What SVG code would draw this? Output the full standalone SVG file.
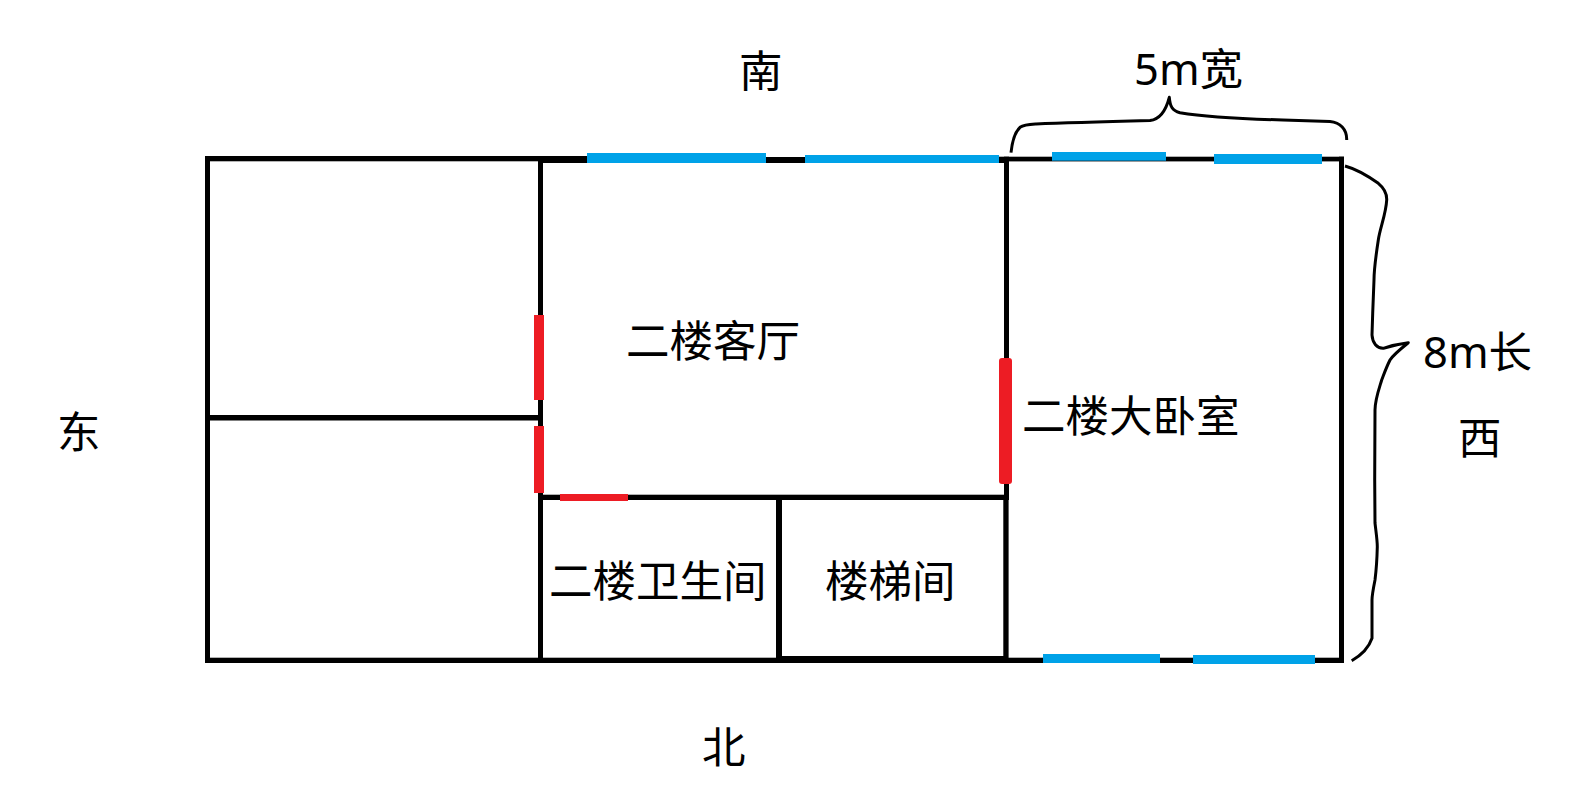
<svg xmlns="http://www.w3.org/2000/svg" width="1580" height="810" viewBox="0 0 1580 810">
<style>
.w{fill:#000}
.b{fill:#00a2e8}
.r{fill:#ed1c24}
.brace{fill:none;stroke:#000;stroke-width:3;stroke-linejoin:round;stroke-linecap:butt}
text{font-family:"Noto Sans","Noto Sans CJK SC",sans-serif;font-size:43.5px;fill:#000}
</style>
<rect width="1580" height="810" fill="#fff"/>
<g id="walls">
<rect class="w" x="205" y="156" width="335" height="5.3"/>
<rect class="w" x="538" y="156" width="52" height="7"/>
<rect class="w" x="587" y="157" width="418" height="6"/>
<rect class="w" x="999" y="156.7" width="345" height="4.7"/>
<rect class="w" x="205" y="156" width="5" height="507"/>
<rect class="w" x="205" y="657.7" width="335" height="5.3"/>
<rect class="w" x="538" y="657.7" width="242" height="5.3"/>
<rect class="w" x="778" y="656" width="228" height="7"/>
<rect class="w" x="1003" y="657.7" width="341" height="5.3"/>
<rect class="w" x="1339" y="156.7" width="5" height="506"/>
<rect class="w" x="205" y="415" width="335" height="5.5"/>
<rect class="w" x="538" y="156" width="5" height="507"/>
<rect class="w" x="538" y="494.7" width="471" height="5.3"/>
<rect class="w" x="776" y="497" width="6" height="162"/>
<rect class="w" x="1004" y="156.7" width="5" height="343.3"/>
<rect class="w" x="1003.3" y="498" width="5.3" height="162"/>
</g>
<g id="windows">
<rect class="b" x="587" y="153" width="179" height="10"/>
<rect class="b" x="805" y="155" width="194" height="8"/>
<rect class="b" x="1052" y="152" width="114" height="8.7"/>
<rect class="b" x="1214" y="154" width="108" height="10"/>
<rect class="b" x="1043" y="654" width="117" height="9"/>
<rect class="b" x="1193" y="655" width="122" height="9"/>
</g>
<g id="doors">
<rect class="r" x="534" y="315" width="10" height="85"/>
<rect class="r" x="534" y="426" width="10" height="67"/>
<rect class="r" x="560" y="494" width="68" height="7"/>
<rect class="r" x="999" y="358" width="13" height="126" rx="3"/>
</g>
<g id="braces">
<path class="brace" d="M1011 152.7 C1012 143 1015 132 1020 127.3 C1024 124.5 1030 124.3 1036 124 C1070 122.5 1110 121.5 1150 120.5 C1158 119.5 1165 114 1169.3 97.3 C1170 106 1172 110.5 1180 112.7 C1200 116 1230 118.5 1283 120 L1330 121.5 C1340 122.5 1347 129 1346.7 140"/>
<path class="brace" d="M1345 166 C1356 169 1368 176 1378.3 183.3 C1384 188 1387 193 1386.7 200 C1386 214 1380 228 1378.3 240 C1376 255 1374 270 1374 280 L1372.7 313.3 L1372 335 C1372.5 343 1377 348.5 1383.3 348.3 C1390 346 1398 344 1408.3 342.7 C1398 351 1393 355 1390 360 C1386 368 1384 374 1381.7 380 C1378 392 1375 400 1375 410 L1374.7 480 L1375 523 C1376 532 1377.3 540 1377.3 546.7 C1377 560 1376 572 1375 580 C1373 590 1372 595 1372 600 L1372 638.3 C1368 650 1360 656 1351.7 660.7"/>
</g>
<g id="labels">
<text x="739" y="87">南</text>
<text x="57" y="448">东</text>
<text x="702" y="763">北</text>
<text x="1458" y="454">西</text>
<text x="1134" y="85">5m宽</text>
<text x="1423" y="368">8m长</text>
<text x="626" y="357">二楼客厅</text>
<text x="1022" y="432">二楼大卧室</text>
<text x="549" y="597">二楼卫生间</text>
<text x="825" y="597">楼梯间</text>
</g>
</svg>
